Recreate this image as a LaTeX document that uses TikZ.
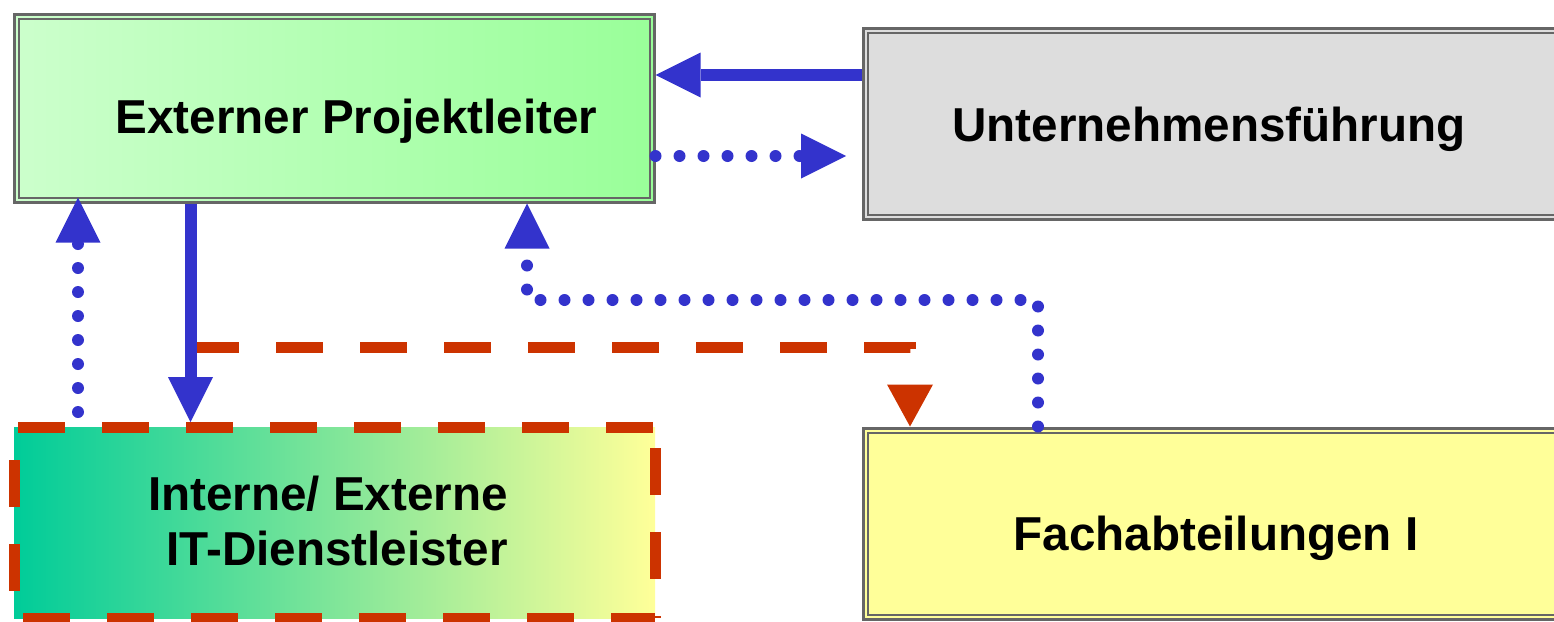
\documentclass[tikz,border=0pt]{standalone}
\usepackage{fontspec}
\setmainfont{Liberation Sans}
\usetikzlibrary{arrows.meta}
\definecolor{arrowblue}{HTML}{3333CC}
\definecolor{dashred}{HTML}{CC3300}
\definecolor{framegray}{HTML}{666666}
\definecolor{leadlight}{HTML}{CCFFCC}
\definecolor{leaddark}{HTML}{99FF99}
\definecolor{boardgray}{HTML}{DDDDDD}
\definecolor{deptyellow}{HTML}{FFFF99}
\definecolor{itteal}{HTML}{00CC99}
\definecolor{itmid}{HTML}{AAE49A}
\begin{document}
\begin{tikzpicture}[x=1pt,y=-1pt,
    box/.style={draw=framegray, line width=3pt, inner sep=0pt},
    frame/.style={draw=framegray, line width=2pt},
    boxtext/.style={font=\fontsize{47.6pt}{55pt}\selectfont\bfseries, anchor=base, inner sep=0pt},
    solidline/.style={arrowblue, line width=12pt, -{Triangle[length=45pt,width=45pt,line width=0pt]}},
    dotline/.style={arrowblue, line width=12pt, line cap=round, dash pattern=on 0pt off 24pt,
        -{Triangle[length=45pt,width=45pt,line width=0pt]}},
    redline/.style={dashred, line width=11pt, dash pattern=on 47pt off 37pt}]
    \useasboundingbox (0,0) rectangle (1554,621);
    \clip (0,0) rectangle (1554,621);
    % boxes
    \node[box, minimum width=639.5pt, minimum height=188pt, left color=leadlight, right color=leaddark] (ep) at (334.25,108) {};
    \node[box, minimum width=717pt, minimum height=190.7pt, fill=boardgray] (uf) at (1221.5,123.65) {};
    \node[box, minimum width=717pt, minimum height=191.7pt, fill=deptyellow] (fa) at (1221.5,523.85) {};
    \node[minimum width=641pt, minimum height=191pt, inner sep=0pt, outer sep=0pt,
        left color=itteal, middle color=itmid, right color=deptyellow] (it) at (334.5,522.5) {};
    \foreach \b in {ep,uf,fa}
        \draw[frame] ([shift={(6,6)}]\b.north west) rectangle ([shift={(-6,-6)}]\b.south east);
    \node[boxtext] (ep-text) at (356.5,133) {Externer Projektleiter};
    \node[boxtext] (uf-text) at (1209,141) {Unternehmensführung};
    \node[boxtext] (fa-text) at (1216,550) {Fachabteilungen I};
    \node[boxtext, anchor=base east, align=right] (it-text) at (508,565) {Interne/ Externe\\IT-Dienstleister};
    % connectors
    \coordinate (split) at (192,347.5);
    \draw[redline, -{Triangle[length=42pt,width=46pt,line width=0pt]}] (split) -| (fa.north -| 910,0);
    \draw[solidline] (uf.west |- 0,75) -- (ep.east |- 0,75);
    \draw[dotline, shorten >=15.5pt] (ep.east |- 0,156) -- (uf.west |- 0,156);
    \draw[solidline, shorten >=5pt] (ep.south -| 190.5,0) -- (it.north -| 190.5,0);
    \draw[dotline, shorten <=15pt, shorten >=-6pt] (it.north -| 78,0) -- (ep.south -| 78,0);
    \draw[dotline] (fa.north -| 1038,0) |- (527,300) -- (ep.south -| 527,0);
    % dashed frame of the IT box
    \draw[redline, dash phase=80pt] (it.north west) -- (it.north east);
    \draw[redline, dash phase=75pt] (it.south west) -- (it.south east);
    \draw[redline, dash phase=51pt] (it.north west) -- (it.south west);
    \draw[redline, dash phase=63pt] (it.north east) -- (it.south east);
\end{tikzpicture}
\end{document}
